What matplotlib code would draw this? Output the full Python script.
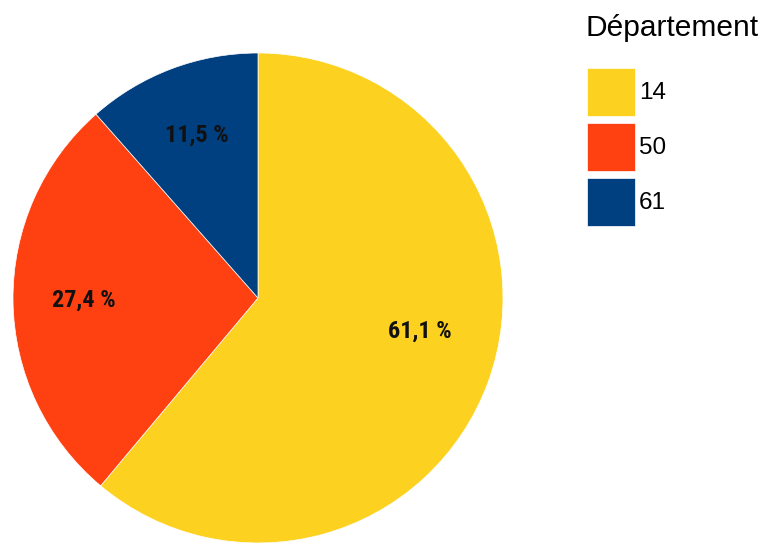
import matplotlib.pyplot as plt

# Data
departements = ['14', '50', '61']
parts = [61.1, 27.4, 11.5]
couleurs = ['#FDD11F', '#FF4111', '#003F80']

plt.rcParams['font.family'] = ['Liberation Sans', 'DejaVu Sans']

fig = plt.figure(figsize=(7.65, 5.45), dpi=100)
ax = fig.add_axes([13 / 765, 2 / 545, 490 / 765, 490 / 545])

wedges, texts, autotexts = ax.pie(
    parts,
    colors=couleurs,
    startangle=90,
    counterclock=False,
    radius=1,
    autopct=lambda p: f'{p:.1f} %'.replace('.', ','),
    pctdistance=0.71,
    wedgeprops=dict(edgecolor='white', linewidth=0.5),
)
for t in autotexts:
    t.set_family(['Roboto Condensed', 'Liberation Sans', 'DejaVu Sans'])
    t.set_fontweight('bold')
    t.set_fontsize(17.5)
    t.set_color('#111111')
# the big slice label sits a bit higher than the slice midpoint
autotexts[0].set_position((0.66, -0.135))

ax.set_xlim(-1.0, 1.0)
ax.set_ylim(-1.0, 1.0)
ax.set_aspect('equal')

# legend title
fig.text(585 / 765, 1 - 36 / 545, 'Département', fontsize=21.5,
         ha='left', va='baseline')

fs = 17.5
leg = fig.legend(
    wedges, departements,
    loc='upper left',
    bbox_to_anchor=(587 / 765, 1 - 68 / 545),
    frameon=False,
    fontsize=fs,
    handlelength=1.975,
    handleheight=2.66,
    handletextpad=0.16,
    labelspacing=0.29,
    borderpad=0,
    borderaxespad=0,
)

fig.savefig('out.png', dpi=100)
